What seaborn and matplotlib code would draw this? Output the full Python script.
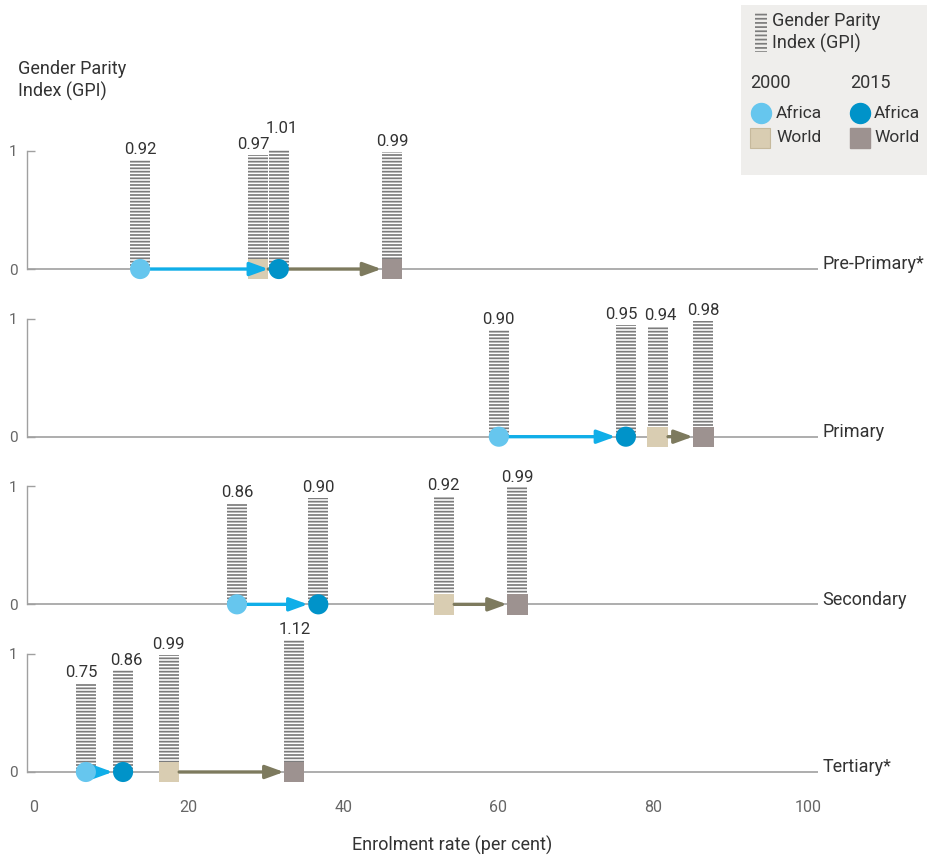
import matplotlib
matplotlib.use("Agg")
import pandas as pd
import matplotlib.pyplot as plt
import seaborn as sns
from matplotlib.patches import Rectangle

# Style
sns.set_theme(style="white")
plt.rcParams["font.family"] = ["Roboto", "DejaVu Sans"]
plt.rcParams["hatch.linewidth"] = 1.25

# Data: enrolment rate (per cent) and gender parity index by level
levels = ["Pre-Primary*", "Primary", "Secondary", "Tertiary*"]
africa_2000_rate = [13.8, 60.1, 26.3, 6.8]
africa_2015_rate = [31.7, 76.5, 36.8, 11.6]
world_2000_rate = [29.0, 80.6, 53.0, 17.5]
world_2015_rate = [46.3, 86.5, 62.5, 33.7]

africa_2000_gpi = [0.92, 0.90, 0.86, 0.75]
africa_2015_gpi = [1.01, 0.95, 0.90, 0.86]
world_2000_gpi = [0.97, 0.94, 0.92, 0.99]
world_2015_gpi = [0.99, 0.98, 0.99, 1.12]

x_ticks = [0, 20, 40, 60, 80, 100]

# Colours
A00 = "#66c6ee"
A15 = "#0093c9"
W00 = "#d9cdb2"
W15 = "#9d9290"
ARROW_A = "#10aee8"
ARROW_W = "#7d7a5e"
HATCH = "#7c7c7c"
AXIS = "#a0a0a0"
TXT = "#333333"
TICK_TXT = "#666666"

fig, axes = plt.subplots(4, 1, figsize=(9.27, 8.56), dpi=100, sharex=True)
fig.subplots_adjust(left=27/927, right=818/927, top=1-125/856,
                    bottom=1-795.6/856, hspace=0)

for i, ax in enumerate(axes):
    ax.patch.set_visible(False)
    ax.set_xlim(-0.8, 101.3)
    ax.set_ylim(-0.2, 1.22)
    ax.axhline(0, color=AXIS, lw=1.2, zorder=0.5)

    rates = [africa_2000_rate[i], africa_2015_rate[i], world_2000_rate[i], world_2015_rate[i]]
    gpis = [africa_2000_gpi[i], africa_2015_gpi[i], world_2000_gpi[i], world_2015_gpi[i]]

    # hatched GPI columns
    ax.bar(rates, gpis, width=2.6, color="none", edgecolor=HATCH,
           hatch="-----", linewidth=0, zorder=1)

    # value labels, nudged apart where columns touch
    lab = sorted([[r, g, r, g + 0.025] for r, g in zip(rates, gpis)])
    for a, b in zip(lab[:-1], lab[1:]):
        if b[0] - a[0] < 5:
            a[2] -= 0.6
            b[2] += 0.4
        if b[0] - a[0] < 3.5:
            hi, lo = (b, a) if b[1] >= a[1] else (a, b)
            hi[3] = max(hi[3], lo[3] + 0.13)
    for r, g, tx, ty in lab:
        ax.text(tx, ty, f"{g:.2f}", ha="center", va="bottom",
                fontsize=12, color=TXT)

    # world squares
    world = pd.DataFrame({"rate": [world_2000_rate[i], world_2015_rate[i]],
                          "y": [0, 0], "year": ["2000", "2015"]})
    sns.scatterplot(data=world, x="rate", y="y", hue="year",
                    palette={"2000": W00, "2015": W15}, marker="s", s=215,
                    linewidth=0, legend=False, ax=ax, zorder=2)

    # arrows 2000 -> 2015
    ax.annotate("", xy=(africa_2015_rate[i], 0), xytext=(africa_2000_rate[i], 0),
                arrowprops=dict(arrowstyle="-|>,head_length=0.55,head_width=0.2",
                                color=ARROW_A, lw=2.4, shrinkA=0, shrinkB=7.5,
                                mutation_scale=20), zorder=3)
    ax.annotate("", xy=(world_2015_rate[i], 0), xytext=(world_2000_rate[i], 0),
                arrowprops=dict(arrowstyle="-|>,head_length=0.55,head_width=0.2",
                                color=ARROW_W, lw=2.4, shrinkA=7.5, shrinkB=7.5,
                                mutation_scale=20), zorder=3)

    # africa circles
    africa = pd.DataFrame({"rate": [africa_2000_rate[i], africa_2015_rate[i]],
                           "y": [0, 0], "year": ["2000", "2015"]})
    sns.scatterplot(data=africa, x="rate", y="y", hue="year",
                    palette={"2000": A00, "2015": A15}, marker="o", s=210,
                    linewidth=0, legend=False, ax=ax, zorder=4)

    ax.text(101.9, 0.04, levels[i], ha="left", va="center", fontsize=13,
            color=TXT, clip_on=False)

    ax.set(xlabel="", ylabel="")
    ax.set_yticks([0, 1])
    ax.set_yticklabels(["0", "1"])
    ax.tick_params(axis="y", direction="in", length=6, width=1, color=AXIS,
                   labelcolor=TICK_TXT, labelsize=11, pad=7, left=True)
    ax.tick_params(axis="x", length=0)
    for s in ["top", "right", "bottom"]:
        ax.spines[s].set_visible(False)
    ax.spines["left"].set_bounds(0, 1)
    ax.spines["left"].set_color(AXIS)
    ax.spines["left"].set_linewidth(1)

axes[-1].set_xticks(x_ticks)
axes[-1].set_xticklabels([str(t) for t in x_ticks])
axes[-1].tick_params(axis="x", labelsize=11.5, labelcolor=TICK_TXT, pad=3)

fig.text(452/927, 1-845/856, "Enrolment rate (per cent)", ha="center",
         va="center", fontsize=13, color=TXT)
fig.text(18/927, 1-60/856, "Gender Parity\nIndex (GPI)", ha="left", va="top",
         fontsize=13, color=TXT, linespacing=1.25)

# legend box
lax = fig.add_axes([741/927, 1-175/856, 186/927, 170/856])
lax.set_xlim(0, 186)
lax.set_ylim(170, 0)
lax.set_facecolor("#efeeec")
for s in lax.spines.values():
    s.set_visible(False)
lax.set_xticks([])
lax.set_yticks([])
lax.add_patch(Rectangle((14, 7), 12, 40, facecolor="none", edgecolor=HATCH,
                        hatch="----", linewidth=0))
lax.text(31, 7, "Gender Parity\nIndex (GPI)", ha="left", va="top",
         fontsize=13, color=TXT, linespacing=1.25)
lax.text(9, 78, "2000", ha="left", va="center", fontsize=13, color=TXT)
lax.text(109, 78, "2015", ha="left", va="center", fontsize=13, color=TXT)
lax.plot([20], [108], marker="o", markersize=14.4, color=A00, linestyle="none")
lax.plot([19], [133], marker="s", markersize=14, color=W00, markeredgecolor="#c6b99c",
         markeredgewidth=0.8, linestyle="none")
lax.plot([119], [108], marker="o", markersize=14.4, color=A15, linestyle="none")
lax.plot([119], [133], marker="s", markersize=14, color=W15, linestyle="none")
for x0, y0, t in [(35, 109, "Africa"), (35, 133, "World"),
                  (133, 108, "Africa"), (133, 133, "World")]:
    lax.text(x0, y0, t, ha="left", va="center", fontsize=12.5, color=TXT)

fig.savefig("out.png", dpi=100)
